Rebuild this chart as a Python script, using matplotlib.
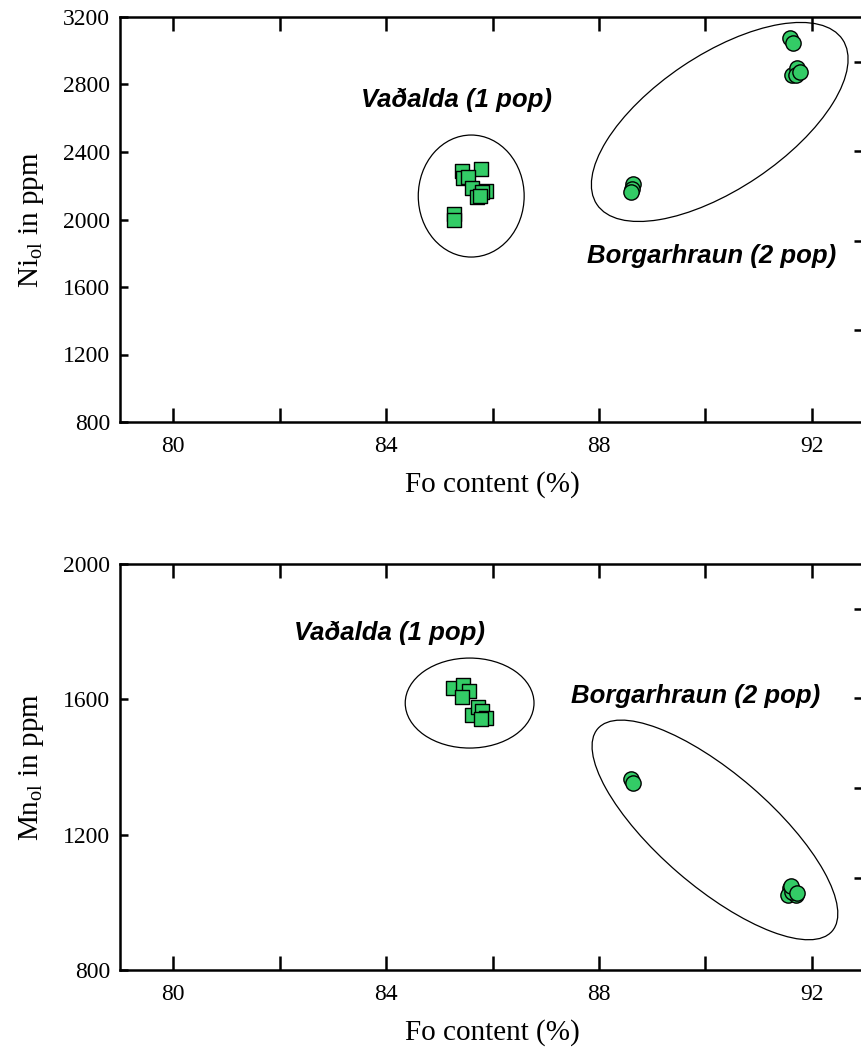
import matplotlib
matplotlib.use("Agg")
import matplotlib.pyplot as plt
from matplotlib.patches import Ellipse
from matplotlib.transforms import Affine2D

plt.rcParams['font.family'] = 'Liberation Serif'
plt.rcParams['mathtext.fontset'] = 'custom'
plt.rcParams['mathtext.rm'] = 'Liberation Serif'

# Vaðalda (squares)
vad_fo_ni = [85.42, 85.78, 85.45, 85.54, 85.61, 85.71, 85.88, 85.80, 85.77, 85.28, 85.28]
vad_ni = [2289, 2299, 2244, 2252, 2188, 2133, 2171, 2165, 2139, 2033, 1997]
vad_fo_mn = [85.26, 85.45, 85.55, 85.42, 85.61, 85.72, 85.80, 85.88, 85.78]
vad_mn = [1633, 1642, 1625, 1606, 1554, 1578, 1566, 1544, 1541]

# Borgarhraun (circles)
bor_fo_ni = [91.59, 91.64, 91.62, 91.73, 91.71, 91.77, 88.64, 88.63, 88.60]
bor_ni = [3074, 3048, 2856, 2896, 2856, 2874, 2209, 2179, 2165]
bor_fo_mn = [88.61, 88.64, 91.59, 91.56, 91.71, 91.62, 91.61, 91.72]
bor_mn = [1364, 1354, 1041, 1022, 1022, 1031, 1048, 1027]

x_ticks = [80, 84, 88, 92]
x_minor = [82, 86, 90]
ni_ticks = [800, 1200, 1600, 2000, 2400, 2800, 3200]
mn_ticks = [800, 1200, 1600, 2000]

green = '#33cc66'
W, H = 861, 1053
fig = plt.figure(figsize=(W / 100, H / 100), dpi=100)
ax1 = fig.add_axes([120 / W, 1 - 422 / H, 745 / W, 405 / H])
ax2 = fig.add_axes([120 / W, 1 - 970 / H, 745 / W, 406 / H])


def style(ax, ylim, yticks, ylabel):
    ax.set_xlim(79, 93)
    ax.set_ylim(*ylim)
    ax.set_xticks(x_ticks)
    ax.set_xticks(x_minor, minor=True)
    ax.set_yticks(yticks)
    for s in ax.spines.values():
        s.set_linewidth(1.8)
    ax.tick_params(axis='x', which='both', direction='in', length=10, width=1.8,
                   top=True, labelsize=17, pad=10)
    ax.tick_params(axis='y', direction='in', length=6, width=1.8,
                   right=False, labelsize=17, pad=7)
    ax.set_xlabel('Fo content (%)', fontsize=21)
    ax.set_ylabel(ylabel, fontsize=21)
    ax.xaxis.set_label_coords(0.5, -0.12)
    ax.yaxis.set_label_coords(-0.10, 0.5)
    # secondary axis ticks on the right edge
    tw = ax.twinx()
    tw.set_ylim(-0.03, 4.5)
    tw.set_yticks([1, 2, 3, 4])
    tw.tick_params(axis='y', direction='in', length=8, width=1.8, labelright=False)
    for s in tw.spines.values():
        s.set_visible(False)


def ratio(ax):
    bb = ax.get_position()
    xs = ax.get_xlim()[1] - ax.get_xlim()[0]
    ys = ax.get_ylim()[1] - ax.get_ylim()[0]
    return (ys / (bb.height * H)) / (xs / (bb.width * W))


style(ax1, (800, 3200), ni_ticks, r'Ni$_{\rm ol}$ in ppm')
style(ax2, (800, 2000), mn_ticks, r'Mn$_{\rm ol}$ in ppm')

ax1.scatter(vad_fo_ni, vad_ni, marker='s', s=100, c=green, edgecolors='black', linewidths=1, zorder=3)
ax1.scatter(bor_fo_ni, bor_ni, marker='o', s=121, c=green, edgecolors='black', linewidths=1, zorder=3)
ax2.scatter(vad_fo_mn, vad_mn, marker='s', s=100, c=green, edgecolors='black', linewidths=1, zorder=3)
ax2.scatter(bor_fo_mn, bor_mn, marker='o', s=121, c=green, edgecolors='black', linewidths=1, zorder=3)

# group outlines
ax1.add_patch(Ellipse((85.60, 2139), 1.99, 723, fill=False, lw=0.9, color='black'))
r1 = ratio(ax1)
ax1.add_patch(Ellipse((90.27, 2578 / r1), 5.56, 2.52, angle=33.9, fill=False, lw=0.9,
                      color='black', transform=Affine2D().scale(1, r1) + ax1.transData))
ax2.add_patch(Ellipse((85.57, 1589), 2.42, 266, fill=False, lw=0.9, color='black'))
r2 = ratio(ax2)
ax2.add_patch(Ellipse((90.18, 1214 / r2), 5.82, 2.12, angle=-40.8, fill=False, lw=0.9,
                      color='black', transform=Affine2D().scale(1, r2) + ax2.transData))

lab = dict(fontsize=18.5, fontweight='bold', fontstyle='italic', family='Liberation Sans',
           ha='center', va='center')
ax1.text(85.33, 2708, 'Vaðalda (1 pop)', **lab)
ax1.text(90.12, 1784, 'Borgarhraun (2 pop)', **lab)
ax2.text(84.07, 1796, 'Vaðalda (1 pop)', **lab)
ax2.text(89.82, 1610, 'Borgarhraun (2 pop)', **lab)

fig.savefig('out.png', dpi=100)
